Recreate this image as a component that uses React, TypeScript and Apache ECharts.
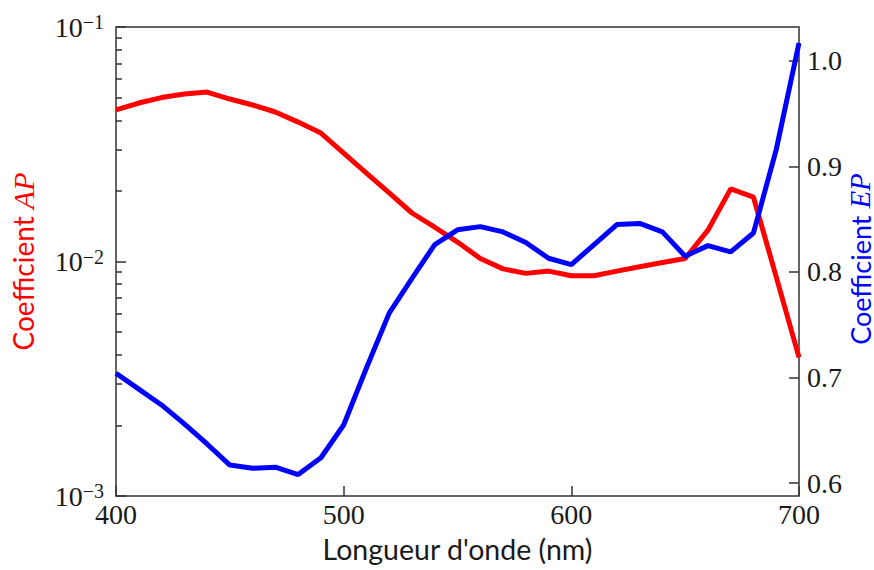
import React, { useEffect, useRef } from "react";
import * as echarts from "echarts";

const wavelengths = [400, 410, 420, 430, 440, 450, 460, 470, 480, 490, 500, 510, 520, 530, 540, 550, 560, 570, 580, 590, 600, 610, 620, 630, 640, 650, 660, 670, 680, 690, 700];
const apValues = [0.0443, 0.0474, 0.05, 0.0518, 0.0528, 0.0493, 0.0465, 0.0434, 0.0393, 0.0353, 0.029, 0.0238, 0.0196, 0.0161, 0.014, 0.0121, 0.0103, 0.0093, 0.0089, 0.0091, 0.0087, 0.0087, 0.0091, 0.0095, 0.0099, 0.0103, 0.0136, 0.0204, 0.0188, 0.0086, 0.0039];
const epValues = [0.704, 0.689, 0.674, 0.656, 0.637, 0.617, 0.614, 0.615, 0.608, 0.624, 0.655, 0.709, 0.761, 0.794, 0.826, 0.84, 0.843, 0.838, 0.828, 0.813, 0.807, 0.826, 0.845, 0.846, 0.838, 0.815, 0.825, 0.819, 0.837, 0.916, 1.017];
const xTicks = [400, 500, 600, 700];
const apMinorMantissas = [2, 3, 4, 5, 6, 7, 8, 9];
const apMinorDecades = [-3, -2];
const epTicks = [0.6, 0.7, 0.8, 0.9, 1.0];

const apMinorTickPositions: number[] = [];
apMinorDecades.forEach((d) => apMinorMantissas.forEach((m) => apMinorTickPositions.push(d + Math.log10(m))));

const SERIF = "'Liberation Serif', 'DejaVu Serif', serif";
const SANS = "Lato, 'DejaVu Sans', sans-serif";
const TXT = "#1a1a1a";

export default function App() {
  const ref = useRef<HTMLDivElement>(null);
  useEffect(() => {
    if (!ref.current) return;
    const chart = echarts.init(ref.current, undefined, { renderer: "svg" });
    const apData = wavelengths.map((w, i) => [w, apValues[i]]);
    const epData = wavelengths.map((w, i) => [w, epValues[i]]);
    chart.setOption({
      animation: false,
      backgroundColor: "#ffffff",
      grid: {
        left: 116, right: 75, top: 27, bottom: 74,
        outerBoundsMode: "none", containLabel: false,
        show: true, borderColor: "#333", borderWidth: 1.5, backgroundColor: "transparent",
      },
      graphic: [
        {
          type: "text",
          x: 860,
          y: 259,
          rotation: Math.PI / 2,
          style: {
            text: "{a|Coefficient }{b|EP}",
            align: "center",
            verticalAlign: "middle",
            rich: {
              a: { fontFamily: SANS, fontSize: 27, lineHeight: 26, fill: "#0000ff", color: "#0000ff" },
              b: { fontFamily: SERIF, fontStyle: "italic", fontSize: 29, lineHeight: 26, fill: "#0000ff", color: "#0000ff" },
            },
          },
        },
      ],
      xAxis: {
        type: "value",
        min: 400,
        max: 700,
        interval: 100,
        splitLine: { show: false },
        axisLine: { show: false },
        axisTick: { show: true, inside: true, length: 10, lineStyle: { color: "#333", width: 1.5 }, customValues: xTicks },
        axisLabel: { customValues: xTicks, fontFamily: SERIF, fontSize: 28, color: TXT, margin: 4 },
        name: "Longueur d'onde (nm)",
        nameLocation: "middle",
        nameGap: 38,
        nameTextStyle: { fontFamily: SANS, fontSize: 28.5, color: TXT },
      },
      yAxis: [
        {
          type: "log",
          logBase: 10,
          min: 0.001,
          max: 0.1,
          position: "left",
          splitLine: { show: false },
          axisLine: { show: false },
          axisTick: { show: true, inside: true, length: 10, lineStyle: { color: "#333", width: 1.5 } },
          axisLabel: {
            margin: 12,
            formatter: (v: number) => {
              const k = Math.round(Math.log10(v));
              return "{b|10}{s|\u2212" + Math.abs(k) + "}";
            },
            rich: {
              b: { fontFamily: SERIF, fontSize: 28, lineHeight: 30, color: TXT },
              s: { fontFamily: SERIF, fontSize: 20, lineHeight: 20, verticalAlign: "top", color: TXT },
            },
          },
          name: "{a|Coefficient }{b|AP}",
          nameLocation: "middle",
          nameRotate: 90,
          nameGap: 78,
          nameTextStyle: {
            rich: {
              a: { fontFamily: SANS, fontSize: 28, color: "#ff0000" },
              b: { fontFamily: SERIF, fontStyle: "italic", fontSize: 30, color: "#ff0000" },
            },
          },
        },
        {
          type: "value",
          min: 0.5877,
          max: 1.0322,
          position: "right",
          splitLine: { show: false },
          axisLine: { show: false },
          axisTick: { show: true, inside: true, length: 10, lineStyle: { color: "#333", width: 1.5 }, customValues: epTicks },
          axisLabel: { customValues: epTicks, formatter: (v: number) => v.toFixed(1), fontFamily: SERIF, fontSize: 28, color: TXT, margin: 8 },
        },
        {
          type: "value",
          min: -3,
          max: -1,
          position: "left",
          splitLine: { show: false },
          axisLine: { show: false },
          axisLabel: { show: false },
          axisTick: { show: true, inside: true, length: 6, lineStyle: { color: "#333", width: 1.5 }, customValues: apMinorTickPositions },
        },
      ],
      series: [
        {
          type: "line",
          yAxisIndex: 0,
          data: apData,
          showSymbol: false,
          lineStyle: { color: "#ff0000", width: 5 },
          itemStyle: { color: "#ff0000" },
        },
        {
          type: "line",
          yAxisIndex: 1,
          data: epData,
          showSymbol: false,
          lineStyle: { color: "#0000ff", width: 5 },
          itemStyle: { color: "#0000ff" },
        },
      ],
    });
    return () => chart.dispose();
  }, []);
  return <div ref={ref} style={{ position: "fixed", left: 0, top: 0, width: 874, height: 570 }} />;
}
